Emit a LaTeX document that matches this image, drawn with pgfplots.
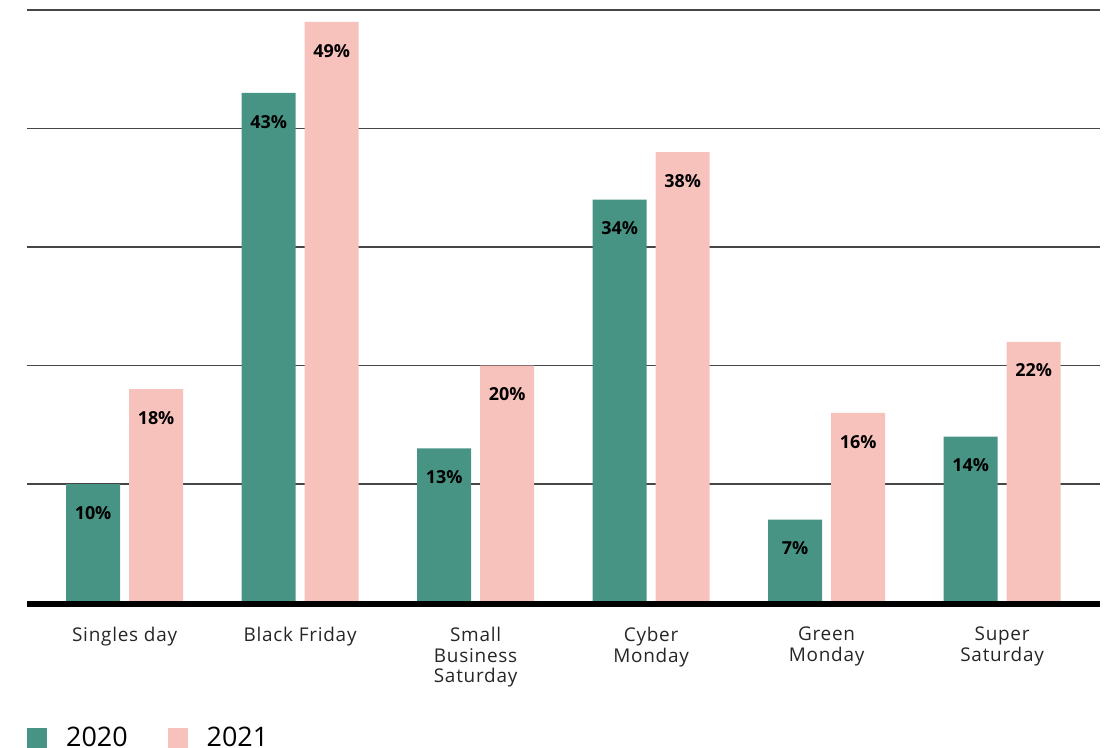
\documentclass[border=0pt]{standalone}
\usepackage{pgfplots}
\pgfplotsset{compat=1.18}
\usepackage{fontspec}
\setmainfont{Open Sans}
\newfontfamily\tickfont[LetterSpace=4]{Open Sans}
\definecolor{teal20}{RGB}{71,148,133}
\definecolor{pink21}{RGB}{248,194,188}
\definecolor{gridc}{RGB}{70,70,70}
\begin{document}
\begin{tikzpicture}
\useasboundingbox (-27bp,-145.5bp) rectangle (1084bp,602.5bp);
\begin{axis}[
  scale only axis,
  width=1073bp, height=592.5bp,
  xmin=-0.556, xmax=5.558,
  ymin=0, ymax=50,
  clip=false,
  axis line style={draw=none},
  ytick={10,20,30,40,50},
  yticklabels={},
  ymajorgrids,
  grid style={gridc, line width=1.1bp},
  major tick length=0pt,
  /pgf/number format/assume math mode=true,
  xtick={0,1,2,3,4,5},
  xticklabels={Singles day, Black Friday, {Small\\Business\\Saturday}, {Cyber\\Monday}, {Green\\Monday}, {Super\\Saturday}},
  xticklabel style={align=center, anchor=north, inner sep=0pt, yshift=-24bp,
    font=\tickfont\fontsize{19}{21}\selectfont, text=black!85},
  ybar, bar width=54bp,
  nodes near coords={\pgfmathprintnumber{\pgfplotspointmeta}\%},
  every node near coord/.append style={anchor=north, inner sep=0pt, yshift=-22bp,
    font=\fontsize{18}{20}\selectfont\bfseries, text=black},
  legend style={at={(0,0)}, anchor=west, yshift=-135bp, draw=none, fill=none,
    font=\fontsize{27}{30}\selectfont, inner sep=0pt,
    /tikz/every odd column/.append style={column sep=17bp},
    /tikz/every even column/.append style={column sep=38bp}},
  legend columns=2,
  legend image code/.code={\fill[#1, draw=none] (0bp,-10bp) rectangle (20bp,10bp);},
  legend cell align=left,
]
\addplot[fill=teal20, draw=none, bar shift=-31.5bp] coordinates {(0,10) (1,43) (2,13) (3,34) (4,7) (5,14)};
\addplot[fill=pink21, draw=none, bar shift=31.5bp] coordinates {(0,18) (1,49) (2,20) (3,38) (4,16) (5,22)};
\legend{2020,2021}
\draw[black, line width=6bp] ([yshift=-1.5bp]rel axis cs:0,0) -- ([yshift=-1.5bp]rel axis cs:1,0);
\end{axis}
\end{tikzpicture}
\end{document}
